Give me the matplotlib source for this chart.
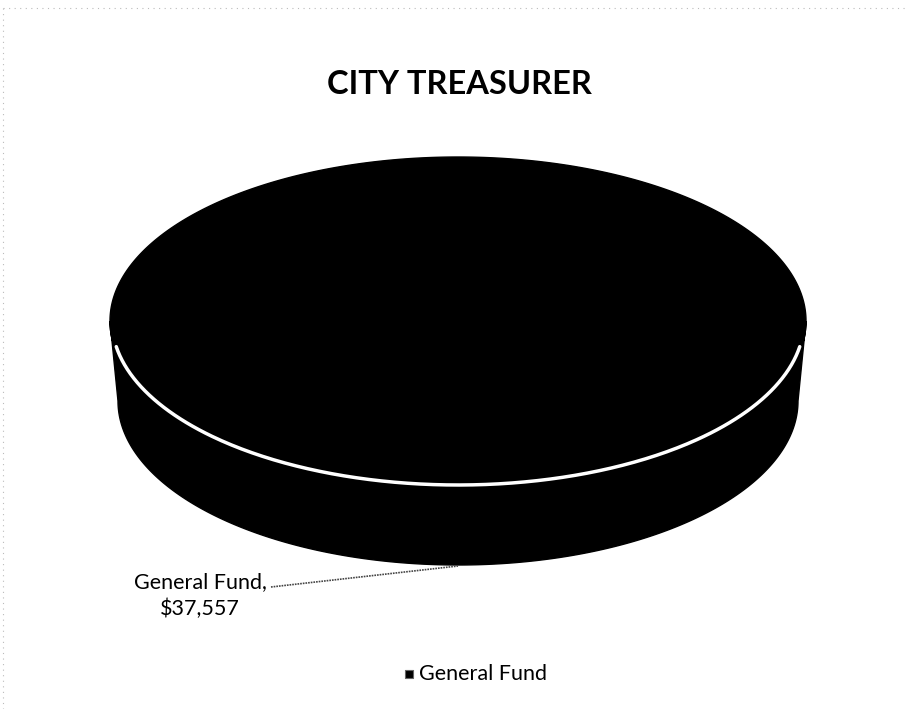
import numpy as np
import matplotlib.pyplot as plt
from matplotlib.patches import Polygon

# budget by fund
funds = ["General Fund"]
amounts = [37557]
title = "CITY TREASURER"

W, H = 907, 709
plt.rcParams['font.family'] = ['Lato', 'DejaVu Sans']

fig = plt.figure(figsize=(W / 100, H / 100), dpi=100)
ax = fig.add_axes([0, 0, 1, 1])
ax.set_xlim(0, W)
ax.set_ylim(H, 0)
ax.axis('off')

# faint page border
ax.plot([3, 3], [8, H], color='#bbbbbb', lw=0.8, ls=(0, (1, 4)))
ax.plot([3, W], [8, 8], color='#bbbbbb', lw=0.8, ls=(0, (1, 4)))

# 3d pie geometry (pixel space, y downwards)
cx, cy = 458, 321
a, b = 348, 164
a_bot = 340          # bottom rim a bit narrower (perspective)
depth = 80

total = float(sum(amounts))
start = -90.0
for name, val in zip(funds, amounts):
    span = 360.0 * val / total
    t = np.radians(np.linspace(start, start + span, 720))

    # side wall: only the front half (sin > 0) is visible
    tf = np.radians(np.linspace(0, 180, 400))
    xs = cx + a * np.cos(tf)
    ys = cy + b * np.sin(tf)
    xb = cx + a_bot * np.cos(tf)
    side = np.column_stack([np.r_[xs, xb[::-1]], np.r_[ys, ys[::-1] + depth]])
    ax.add_patch(Polygon(side, closed=True, fc='black', ec='black', lw=1))

    # top face
    pts = np.column_stack([cx + a * np.cos(t), cy + b * np.sin(t)])
    if span < 360:
        pts = np.vstack([[cx, cy], pts])
    ax.add_patch(Polygon(pts, closed=True, fc='black', ec='black', lw=1))

    # white rim on the front edge of the top face
    tr = np.radians(np.linspace(9, 171, 300))
    ax.plot(cx + (a - 2) * np.cos(tr), cy + b * np.sin(tr), color='white',
            lw=2.5, solid_capstyle='round')

    # data label with leader to the bottom of the wall at mid angle
    mid = np.radians(start + span / 2)
    ex, ey = cx + a_bot * np.cos(mid), cy + b * np.sin(mid) + depth + 1
    lx, ly = 271, 587
    ax.plot([lx, ex], [ly, ey], color='#444444', lw=1.2, ls=(0, (1, 0.6)))
    ax.text(200, 596, f"{name},\n${val:,}", ha='center', va='center',
            fontsize=15.5, linespacing=1.4, color='black')
    start += span

ax.text(459, 85, title, ha='center', va='center', fontsize=23.5,
        fontweight='bold', color='black')

# legend
ax.scatter([409], [674], marker='s', s=30, color='black', edgecolors='#666666',
           linewidths=0.8)
ax.text(419, 674, funds[0], ha='left', va='center', fontsize=15.5,
        color='black')

fig.savefig('out.png', dpi=100)
